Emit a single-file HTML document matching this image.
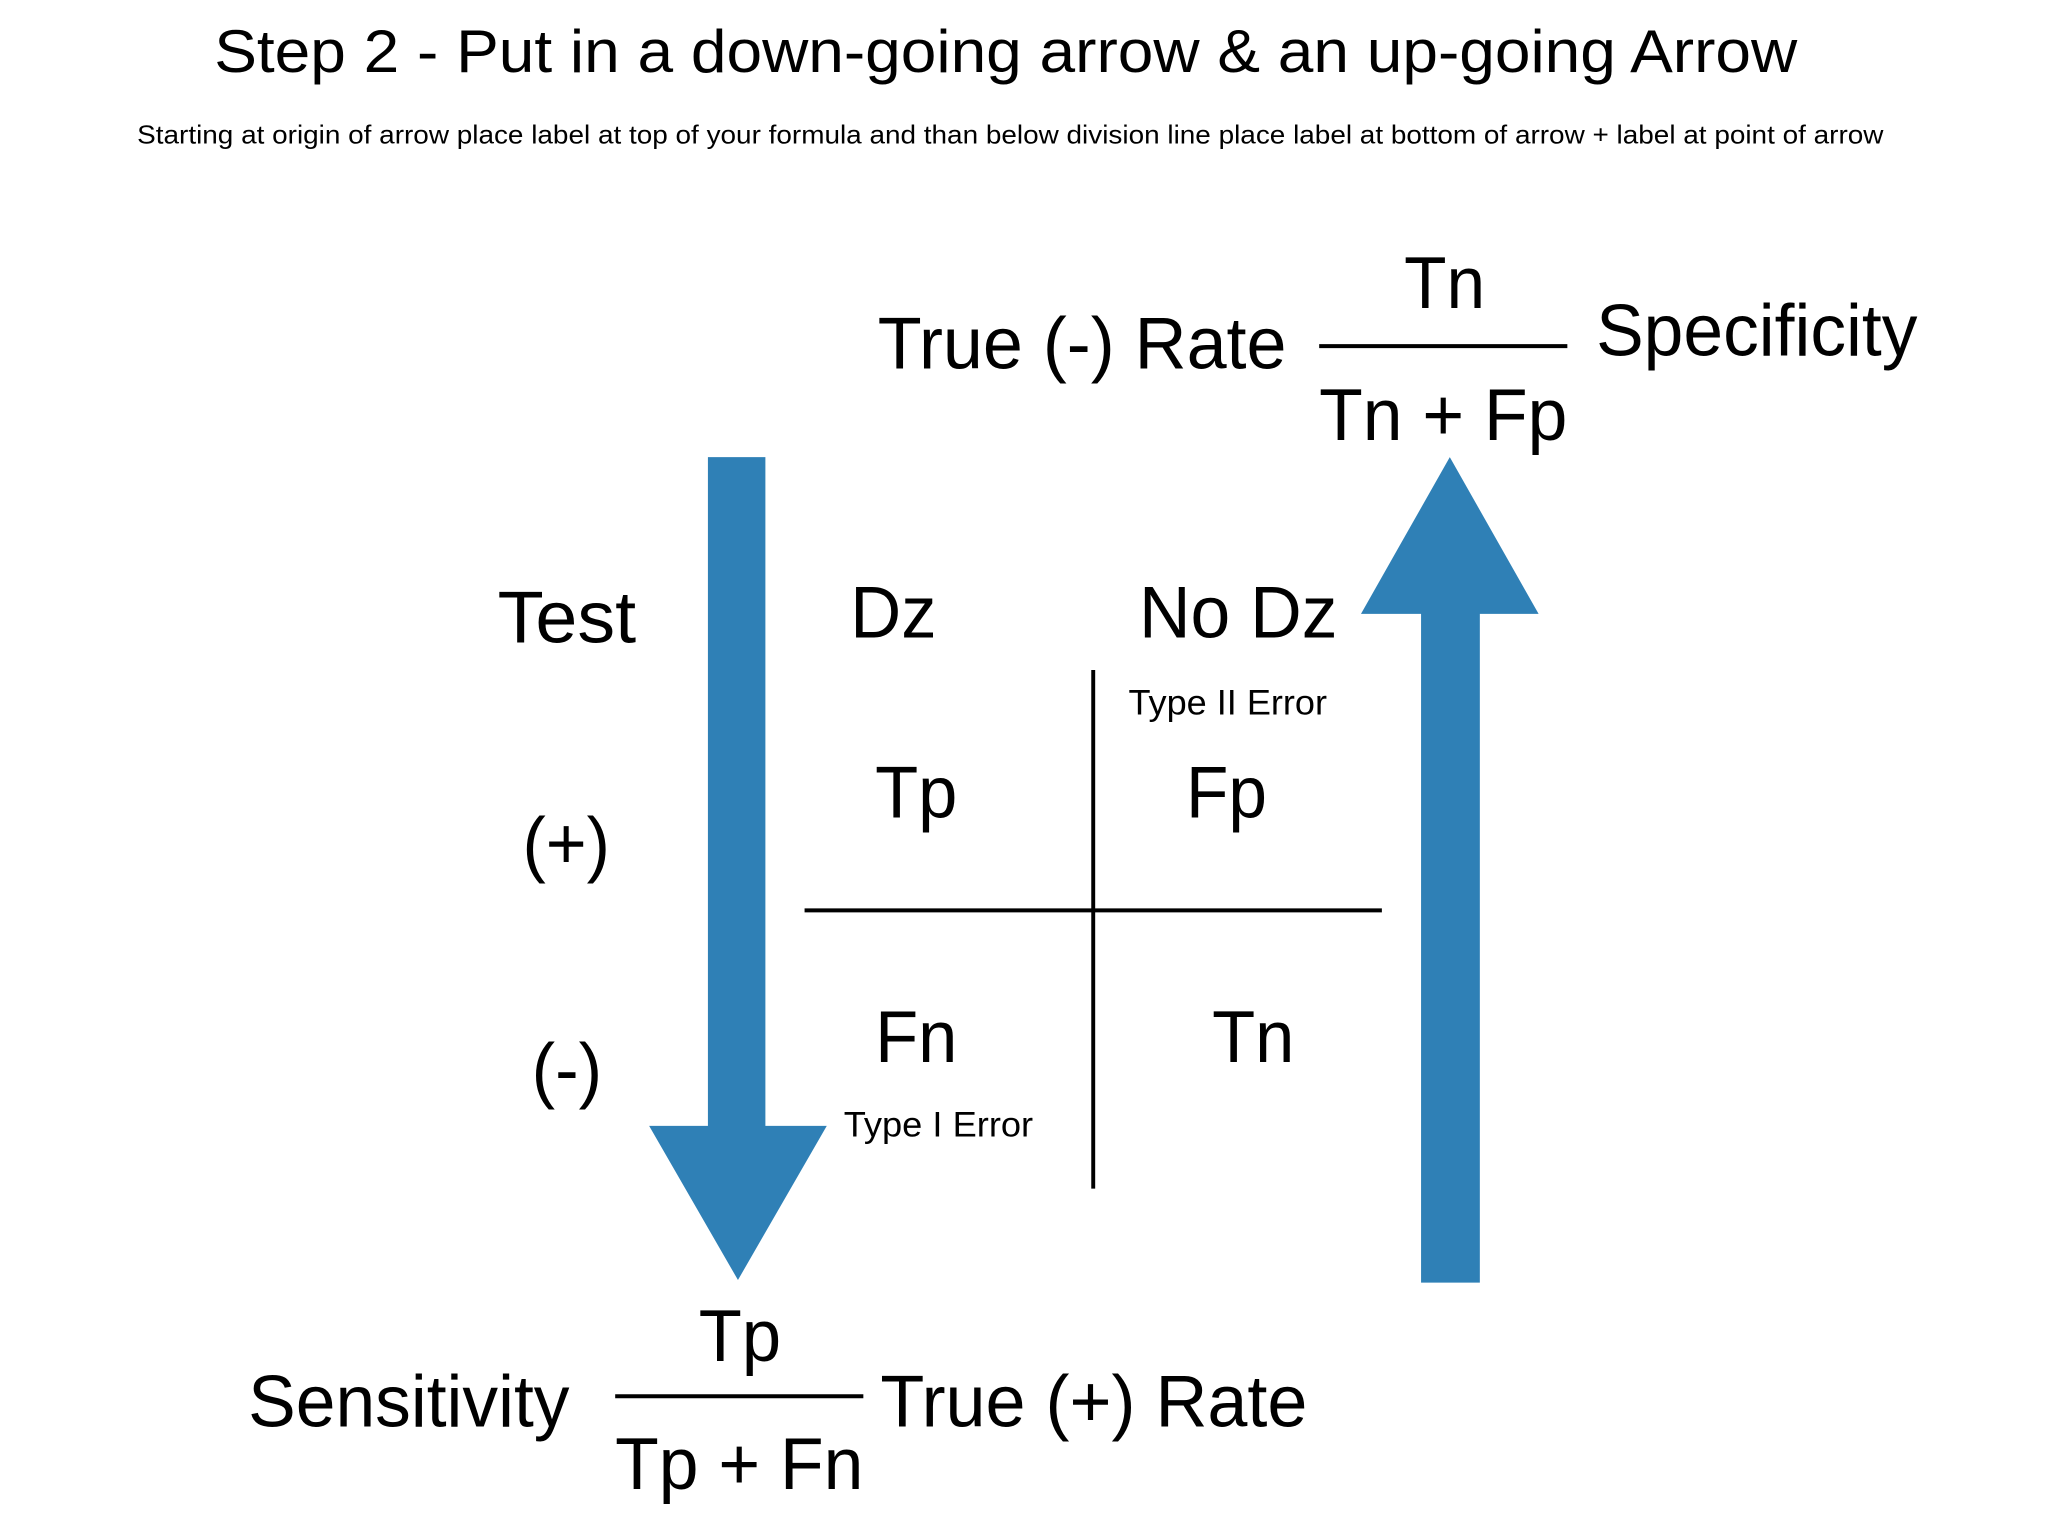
<!DOCTYPE html>
<html><head><meta charset="utf-8"><style>html,body{margin:0;padding:0;background:#fff}svg{display:block}</style></head>
<body>
<svg width="2048" height="1536" viewBox="0 0 1568 1176" preserveAspectRatio="none" xmlns="http://www.w3.org/2000/svg" font-family="Liberation Sans, sans-serif" fill="#000">
<rect width="1568" height="1176" fill="#fff"/>
<text x="164" y="55" font-size="46" textLength="1212" lengthAdjust="spacingAndGlyphs">Step 2 - Put in a down-going arrow &amp; an up-going Arrow</text>
<text x="105" y="110" font-size="20" textLength="1337" lengthAdjust="spacingAndGlyphs">Starting at origin of arrow place label at top of your formula and than below division line place label at bottom of arrow + label at point of arrow</text>

<text x="1075" y="236" font-size="56" textLength="62" lengthAdjust="spacingAndGlyphs">Tn</text>
<text x="672" y="282" font-size="56" textLength="313" lengthAdjust="spacingAndGlyphs">True (-) Rate</text>
<line x1="1010" y1="265" x2="1200" y2="265" stroke="#000" stroke-width="3"/>
<text x="1010" y="337" font-size="56" textLength="190" lengthAdjust="spacingAndGlyphs">Tn + Fp</text>
<text x="1222" y="272" font-size="56" textLength="246" lengthAdjust="spacingAndGlyphs">Specificity</text>

<polygon points="542,350 586,350 586,862 633,862 565,980 497,862 542,862" fill="#2f80b6"/>
<polygon points="1110,350 1178,470 1133,470 1133,982 1088,982 1088,470 1042,470" fill="#2f80b6"/>

<text x="381" y="492" font-size="56" textLength="106" lengthAdjust="spacingAndGlyphs">Test</text>
<text x="651" y="488" font-size="56" textLength="66" lengthAdjust="spacingAndGlyphs">Dz</text>
<text x="872" y="488" font-size="56" textLength="152" lengthAdjust="spacingAndGlyphs">No Dz</text>
<text x="864" y="547" font-size="27" textLength="152" lengthAdjust="spacingAndGlyphs">Type II Error</text>
<line x1="837" y1="513" x2="837" y2="910" stroke="#000" stroke-width="3"/>
<line x1="616" y1="697" x2="1058" y2="697" stroke="#000" stroke-width="3"/>
<text x="670" y="626" font-size="56" textLength="63" lengthAdjust="spacingAndGlyphs">Tp</text>
<text x="908" y="626" font-size="56" textLength="62" lengthAdjust="spacingAndGlyphs">Fp</text>
<text x="400" y="665" font-size="56" textLength="67" lengthAdjust="spacingAndGlyphs">(+)</text>
<text x="407" y="838" font-size="56" textLength="54" lengthAdjust="spacingAndGlyphs">(-)</text>
<text x="670" y="813" font-size="56" textLength="63" lengthAdjust="spacingAndGlyphs">Fn</text>
<text x="928" y="813" font-size="56" textLength="63" lengthAdjust="spacingAndGlyphs">Tn</text>
<text x="646" y="870" font-size="27" textLength="145" lengthAdjust="spacingAndGlyphs">Type I Error</text>

<text x="535" y="1042" font-size="56" textLength="63" lengthAdjust="spacingAndGlyphs">Tp</text>
<line x1="471" y1="1069" x2="661" y2="1069" stroke="#000" stroke-width="3"/>
<text x="471" y="1140" font-size="56" textLength="190" lengthAdjust="spacingAndGlyphs">Tp + Fn</text>
<text x="190" y="1092" font-size="56" textLength="246" lengthAdjust="spacingAndGlyphs">Sensitivity</text>
<text x="674" y="1092" font-size="56" textLength="327" lengthAdjust="spacingAndGlyphs">True (+) Rate</text>
</svg>
</body></html>
